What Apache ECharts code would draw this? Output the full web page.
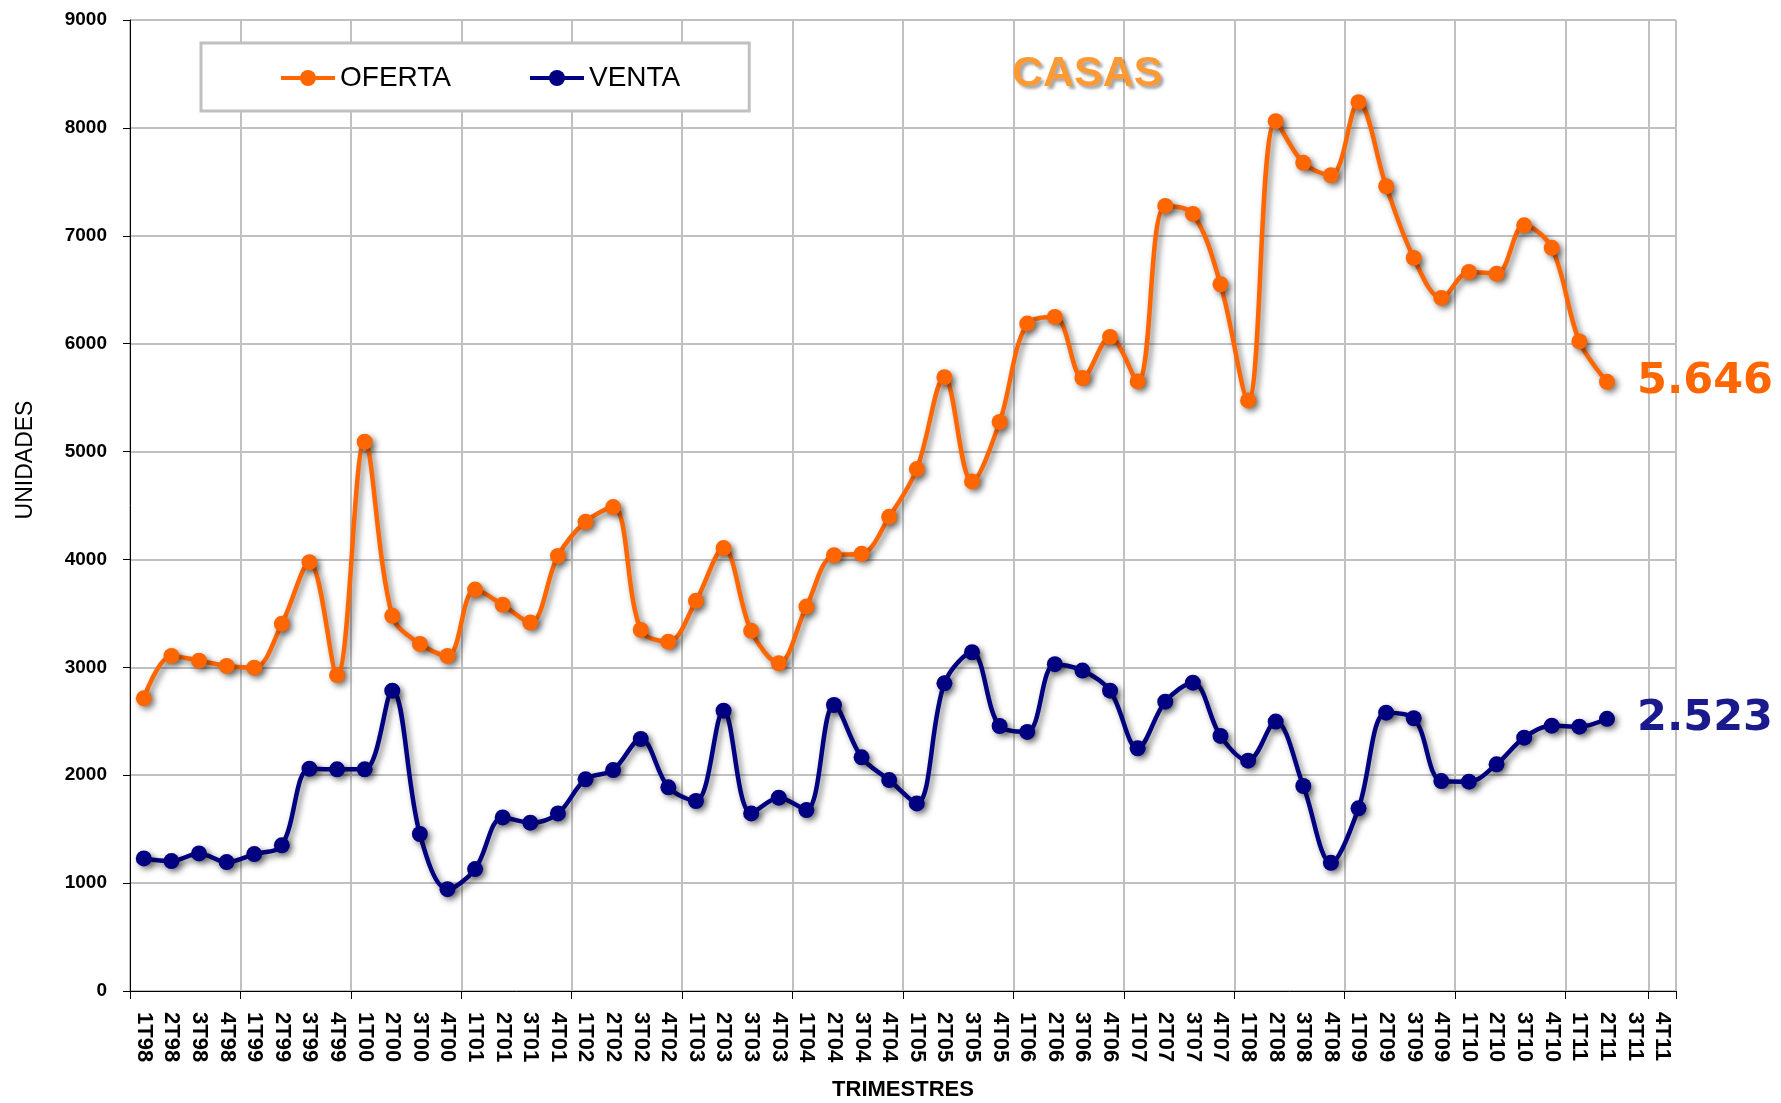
<!DOCTYPE html>
<html>
<head>
<meta charset="utf-8">
<script src="https://cdn.jsdelivr.net/npm/echarts@6/dist/echarts.min.js"></script>
<style>
html,body{margin:0;padding:0;background:#fff;}
#chart{width:1781px;height:1103px;}
</style>
</head>
<body>
<div id="chart"></div>
<script>
const categories = [
  '1T98','2T98','3T98','4T98','1T99','2T99','3T99','4T99',
  '1T00','2T00','3T00','4T00','1T01','2T01','3T01','4T01',
  '1T02','2T02','3T02','4T02','1T03','2T03','3T03','4T03',
  '1T04','2T04','3T04','4T04','1T05','2T05','3T05','4T05',
  '1T06','2T06','3T06','4T06','1T07','2T07','3T07','4T07',
  '1T08','2T08','3T08','4T08','1T09','2T09','3T09','4T09',
  '1T10','2T10','3T10','4T10','1T11','2T11','3T11','4T11'
];
const oferta = [
  2713, 3106, 3062, 3013, 2997, 3403, 3975, 2927,
  5091, 3477, 3217, 3106, 3721, 3579, 3415, 4033,
  4349, 4485, 3347, 3238, 3616, 4105, 3338, 3038,
  3563, 4040, 4052, 4395, 4838, 5689, 4723, 5274,
  6186, 6248, 5682, 6062, 5650, 7277, 7203, 6551,
  5474, 8062, 7676, 7561, 8238, 7459, 6795, 6424,
  6665, 6649, 7097, 6888, 6021, 5646
];
const venta = [
  1229, 1204, 1275, 1195, 1269, 1350, 2060, 2055,
  2055, 2784, 1455, 944, 1130, 1609, 1560, 1646,
  1962, 2048, 2336, 1888, 1761, 2598, 1646, 1792,
  1677, 2651, 2166, 1955, 1739, 2852, 3140, 2456,
  2401, 3029, 2970, 2784, 2250, 2682, 2858, 2364,
  2135, 2497, 1900, 1188, 1693, 2580, 2528, 1946,
  1940, 2101, 2348, 2459, 2450, 2523
];
const yTicks = {min: 0, max: 9000, interval: 1000};

function fmtES(v){
  const s = String(Math.round(v));
  return s.replace(/\B(?=(\d{3})+(?!\d))/g, '.');
}

const chart = echarts.init(document.getElementById('chart'), null, {renderer:'canvas'});
const shadow = {shadowColor:'rgba(0,0,0,0.5)', shadowBlur:6, shadowOffsetX:3, shadowOffsetY:3};

const option = {
  backgroundColor:'#ffffff',
  animation:false,
  title:{
    text:'CASAS',
    left:1007, top:48,
    textStyle:{
      fontFamily:'Liberation Sans, Arial',
      fontWeight:'bold', fontSize:43, color:'#FF9933',
      textShadowColor:'rgba(0,0,0,0.35)', textShadowBlur:3,
      textShadowOffsetX:3, textShadowOffsetY:3
    }
  },
  legend:{
    left:201, top:43,
    padding:[21,69,19,78],
    backgroundColor:'#ffffff',
    borderColor:'#c0c0c0', borderWidth:3, borderRadius:0,
    itemWidth:54, itemHeight:20, itemGap:77,
    lineStyle:{width:4},
    textStyle:{fontFamily:'Liberation Sans, Arial', fontSize:28, color:'#000'},
    data:['OFERTA','VENTA']
  },
  grid:{left:130, right:105, top:20, bottom:112, containLabel:false, outerBoundsMode:'none'},
  xAxis:{
    type:'category',
    data:categories,
    boundaryGap:true,
    name:'TRIMESTRES',
    nameLocation:'middle',
    nameGap:88,
    nameTextStyle:{fontFamily:'Liberation Sans, Arial', fontWeight:'bold', fontSize:22, color:'#000'},
    axisLine:{lineStyle:{color:'#000', width:1}},
    axisTick:{show:true, interval:3, length:8, lineStyle:{color:'#000'}},
    axisLabel:{
      interval:0, rotate:-90, margin:21,
      fontFamily:'Liberation Sans, Arial', fontWeight:'bold', fontSize:22, color:'#000'
    },
    splitLine:{show:true, interval:3, lineStyle:{color:'#c0c0c0', width:2}}
  },
  yAxis:{
    type:'value',
    min:yTicks.min, max:yTicks.max, interval:yTicks.interval,
    axisLine:{show:true, lineStyle:{color:'#000', width:1}},
    axisTick:{show:true, length:7, lineStyle:{color:'#000'}},
    axisLabel:{margin:23, formatter:v => String(v), fontFamily:'Liberation Sans, Arial', fontWeight:'bold', fontSize:19, color:'#000'},
    splitLine:{show:true, lineStyle:{color:'#c0c0c0', width:2}}
  },
  graphic:[{
    type:'text',
    x:14, y:460, rotation:Math.PI/2,
    style:{
      text:'UNIDADES',
      fontFamily:'Liberation Sans, Arial', fontSize:23, fill:'#000',
      align:'center', verticalAlign:'top'
    }
  }],
  series:[
    {
      name:'OFERTA', type:'line', data:oferta,
      smooth:0.35, symbol:'circle', symbolSize:16,
      color:'#FF6600',
      lineStyle:Object.assign({color:'#FF6600', width:4.5}, shadow),
      itemStyle:Object.assign({color:'#FF6600'}, shadow),
      endLabel:{
        show:true, distance:30,
        formatter:p => fmtES(p.value),
        fontFamily:'DejaVu Sans, Verdana, sans-serif', fontWeight:'bold',
        fontSize:43, color:'#FF6600'
      },
      z:3
    },
    {
      name:'VENTA', type:'line', data:venta,
      smooth:0.35, symbol:'circle', symbolSize:16,
      color:'#000080',
      lineStyle:Object.assign({color:'#000080', width:4.5}, shadow),
      itemStyle:Object.assign({color:'#000080'}, shadow),
      endLabel:{
        show:true, distance:30,
        formatter:p => fmtES(p.value),
        fontFamily:'DejaVu Sans, Verdana, sans-serif', fontWeight:'bold',
        fontSize:43, color:'#1A1A8C'
      },
      z:3
    }
  ]
};
chart.setOption(option);
</script>
</body>
</html>
